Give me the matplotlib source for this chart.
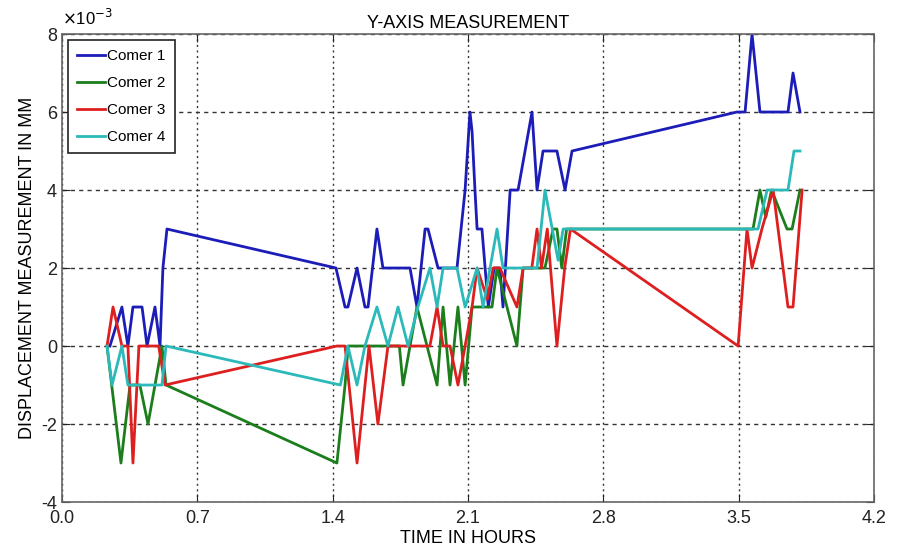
"""Y-axis displacement of the four corners over time."""

import matplotlib.pyplot as plt

plt.rcParams["font.family"] = ["Liberation Sans Narrow", "Liberation Sans", "DejaVu Sans"]
plt.rcParams["axes.unicode_minus"] = False

# displacement values are in units of 1e-3 mm
t_c1 = [0.248, 0.31, 0.341, 0.367, 0.414, 0.44, 0.481, 0.507, 0.522, 0.543,
        1.417, 1.464, 1.479, 1.526, 1.567, 1.583, 1.629, 1.660, 1.800, 1.836,
        1.878, 1.893, 1.945, 2.043, 2.085, 2.110, 2.121, 2.136, 2.147, 2.172,
        2.205, 2.235, 2.265, 2.281, 2.318, 2.359, 2.431, 2.457, 2.488, 2.560,
        2.602, 2.638, 3.491, 3.533, 3.569, 3.610, 3.755, 3.781, 3.817]
y_c1 = [0, 1, 0, 1, 1, 0, 1, 0, 2, 3,
        2, 1, 1, 2, 1, 1, 3, 2, 2, 1,
        3, 3, 2, 2, 4, 6, 5.5, 4, 3, 3,
        1, 2, 2, 1, 4, 4, 6, 4, 5, 5,
        4, 5, 6, 6, 8, 6, 6, 7, 6]

t_c2 = [0.233, 0.305, 0.352, 0.403, 0.445, 0.517, 0.538, 1.422, 1.464, 1.48,
        1.745, 1.764, 1.836, 1.94, 1.971, 2.007, 2.048, 2.085, 2.121, 2.224,
        2.25, 2.353, 2.385, 2.498, 2.54, 2.56, 2.585, 2.61, 3.574, 3.61,
        3.64, 3.67, 3.75, 3.776, 3.817]
y_c2 = [0, -3, -1, -1, -2, 0, -1, -3, -1, 0,
        0, -1, 1, -1, 1, -1, 1, -1, 1, 1,
        2, 0, 2, 2, 3, 3, 2, 3, 3, 4,
        3.3, 4, 3, 3, 4]

t_c3 = [0.233, 0.264, 0.31, 0.341, 0.367, 0.398, 0.50, 0.533, 1.422, 1.464,
        1.526, 1.588, 1.634, 1.686, 1.903, 1.94, 1.971, 2.007, 2.048, 2.085,
        2.121, 2.147, 2.20, 2.23, 2.265, 2.353, 2.385, 2.43, 2.457, 2.48,
        2.51, 2.56, 2.60, 2.63, 3.497, 3.543, 3.569, 3.62, 3.678, 3.755,
        3.781, 3.828]
y_c3 = [0, 1, 0, 0, -3, 0, 0, -1, 0, 0,
        -3, 0, -2, 0, 0, 1, 0, 0, -1, 0,
        1, 2, 1.2, 2, 2, 1, 2, 2, 3, 2,
        3, 0, 2, 3, 0, 3, 2, 3, 4, 1,
        1, 4]

t_c4 = [0.233, 0.259, 0.31, 0.341, 0.517, 0.538, 1.44, 1.479, 1.526, 1.567,
        1.629, 1.686, 1.738, 1.79, 1.841, 1.903, 1.94, 1.971, 2.043, 2.085,
        2.147, 2.178, 2.25, 2.281, 2.457, 2.498, 2.566, 2.592, 3.6, 3.647,
        3.755, 3.786, 3.817]
y_c4 = [0, -1, 0, -1, -1, 0, -1, 0, -1, 0,
        1, 0, 1, 0, 1, 2, 1, 2, 2, 1,
        2, 1, 3, 2, 2, 4, 2.2, 3, 3, 4,
        4, 5, 5]

labels = ["Comer 1", "Comer 2", "Comer 3", "Comer 4"]
colors = ["#1c1cb8", "#1b7d1b", "#dd1f1f", "#2bb9b9"]
x_ticks = [0.0, 0.7, 1.4, 2.1, 2.8, 3.5, 4.2]
y_ticks = [-4, -2, 0, 2, 4, 6, 8]

fig = plt.figure(figsize=(8.97, 5.53), dpi=100)
ax = fig.add_axes([0.0691, 0.0922, 0.9053, 0.8463])

series = [(t_c1, y_c1), (t_c2, y_c2), (t_c3, y_c3), (t_c4, y_c4)]
for (t, y), lab, col in zip(series, labels, colors):
    ax.plot(t, y, color=col, linewidth=2.0, label=lab)

ax.set_xlim(0, 4.2)
ax.set_ylim(-4, 8)
ax.set_xticks(x_ticks)
ax.set_xticklabels([f"{v:.1f}" for v in x_ticks])
ax.set_yticks(y_ticks)
ax.tick_params(direction="in", length=6, labelsize=13, colors="#222222",
               top=True, right=True)
ax.tick_params(axis="x", pad=6)

ax.grid(True, axis="x", color="#333333", linestyle=(0, (1.5, 2.5)), linewidth=1.0)
ax.grid(True, axis="y", color="#333333", linestyle=(0, (3, 3)), linewidth=1.0)
for sp in ax.spines.values():
    sp.set_color("#666666")
    sp.set_linewidth(1.2)

ax.set_title("Y-AXIS MEASUREMENT", fontsize=13, pad=4)
ax.set_xlabel("TIME IN HOURS", fontsize=13, labelpad=2)
ax.set_ylabel("DISPLACEMENT MEASUREMENT IN MM", fontsize=13, labelpad=4)
ax.text(0.0, 1.012, r"$\times$10$^{-3}$", transform=ax.transAxes,
        fontsize=12, ha="left", va="bottom")

leg = ax.legend(loc="upper left", fontsize=11, handlelength=1.8,
                handletextpad=0.15, borderpad=0.6, labelspacing=0.85,
                fancybox=False, framealpha=1.0, borderaxespad=0.4)
leg.get_frame().set_edgecolor("#222222")
leg.get_frame().set_linewidth(1.2)

plt.savefig("out.png", dpi=100)
plt.close()
